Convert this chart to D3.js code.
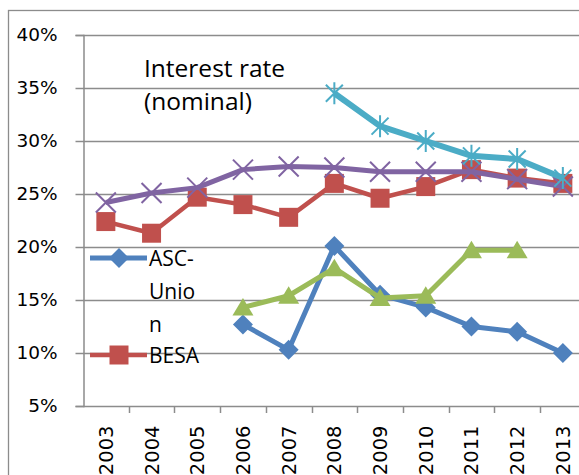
<!DOCTYPE html>
<html>
<head>
<meta charset="utf-8">
<script src="https://cdn.jsdelivr.net/npm/d3@7"></script>
<style>
  body { margin: 0; background: #fff; }
  svg { display: block; }
</style>
</head>
<body>
<div id="chart"></div>
<script>
// years on the category axis
var years = ["2003","2004","2005","2006","2007","2008","2009","2010","2011","2012","2013"];
var yTicks = [0.05,0.10,0.15,0.20,0.25,0.30,0.35,0.40];

// series values (null = no data)
var ascUnion = [null,null,null,0.127,0.103,0.201,0.155,0.143,0.125,0.120,0.100];
var besa     = [0.224,0.213,0.247,0.240,0.228,0.260,0.246,0.257,0.273,0.265,0.260];
var series3  = [null,null,null,0.143,0.154,0.180,0.152,0.154,0.197,0.197,null];
var series4  = [0.242,0.251,0.256,0.273,0.276,0.275,0.271,0.271,0.271,0.264,0.257];
var series5  = [null,null,null,null,null,0.345,0.314,0.300,0.286,0.283,0.265];

var width = 579, height = 475;

var svg = d3.select("#chart").append("svg")
    .attr("width", width)
    .attr("height", height);

// outer chart border (runs off the right/bottom edge)
svg.append("rect")
    .attr("x", 8.5).attr("y", 10.5)
    .attr("width", 700).attr("height", 600)
    .attr("fill", "none")
    .attr("stroke", "#8c8c8c")
    .attr("stroke-width", 1.3);

var x = d3.scaleBand().domain(years).range([83, 83 + 11 * 45.7]);
var y = d3.scaleLinear().domain([0.05, 0.40]).range([406, 35]);

// gridlines
svg.append("g").selectAll("line")
    .data(yTicks)
    .enter().append("line")
    .attr("x1", 83).attr("x2", 640)
    .attr("y1", function(d){ return Math.round(y(d)) + 0.5; })
    .attr("y2", function(d){ return Math.round(y(d)) + 0.5; })
    .attr("stroke", "#8c8c8c")
    .attr("stroke-width", 1.5);

// y axis
var yAxis = svg.append("g")
    .attr("transform", "translate(83.5,0)")
    .call(d3.axisLeft(y).tickValues(yTicks).tickSize(8).tickPadding(18).tickFormat(d3.format(".0%")));
yAxis.select(".domain").attr("stroke", "#8c8c8c").attr("stroke-width", 1.5);
yAxis.selectAll(".tick line").attr("stroke", "#8c8c8c").attr("stroke-width", 1.5);
yAxis.selectAll("text")
    .attr("font-family", "'DejaVu Sans', sans-serif")
    .attr("font-size", 18.5)
    .attr("fill", "#000");

// x axis: labels at band centres, tick marks at band edges
var xAxis = svg.append("g")
    .attr("transform", "translate(0,406.5)")
    .call(d3.axisBottom(x).tickSize(0));
xAxis.select(".domain").remove();
xAxis.selectAll("text")
    .attr("transform", "rotate(-90)")
    .attr("text-anchor", "end")
    .attr("x", -19)
    .attr("y", 0)
    .attr("dy", "0.36em")
    .attr("font-family", "'DejaVu Sans', sans-serif")
    .attr("font-size", 19.5)
    .attr("fill", "#000");
svg.append("g").selectAll("line")
    .data(years)
    .enter().append("line")
    .attr("x1", function(d){ return Math.round(x(d) + x.bandwidth()) + 0.5; })
    .attr("x2", function(d){ return Math.round(x(d) + x.bandwidth()) + 0.5; })
    .attr("y1", 406).attr("y2", 413)
    .attr("stroke", "#8c8c8c")
    .attr("stroke-width", 1.5);

// marker shapes
function diamond(s){ return "M0,"+(-s)+"L"+s+",0L0,"+s+"L"+(-s)+",0Z"; }
function square(s){ return "M"+(-s)+","+(-s)+"H"+s+"V"+s+"H"+(-s)+"Z"; }
function triangle(s){ return "M0,"+(-s*0.95)+"L"+(s*1.05)+","+(s*0.8)+"L"+(-s*1.05)+","+(s*0.8)+"Z"; }
function cross(s){ return "M"+(-s)+","+(-s)+"L"+s+","+s+"M"+(-s)+","+s+"L"+s+","+(-s); }
function star(s){ return cross(s*0.85) + "M0,"+(-s*1.1)+"V"+(s*1.1); }

var allSeries = [
  { name: "ASC-Union", values: ascUnion, color: "#4f81bd", lw: 5,   shape: diamond,  size: 10, fill: true },
  { name: "BESA",      values: besa,     color: "#c0504d", lw: 4.5, shape: square,   size: 9.5, fill: true },
  { name: "Series 3",  values: series3,  color: "#9bbb59", lw: 5,   shape: triangle, size: 10, fill: true },
  { name: "Series 4",  values: series4,  color: "#8064a2", lw: 5,   shape: cross,    size: 10, fill: false },
  { name: "Series 5",  values: series5,  color: "#4bacc6", lw: 6,   shape: star,     size: 10, fill: false }
];

var line = d3.line()
    .defined(function(d){ return d.v != null; })
    .x(function(d){ return x(d.year) + x.bandwidth() / 2; })
    .y(function(d){ return y(d.v); });

allSeries.forEach(function(s){
  var pts = years.map(function(yr, i){ return { year: yr, v: s.values[i] }; });
  var g = svg.append("g");
  g.append("path")
    .attr("d", line(pts))
    .attr("fill", "none")
    .attr("stroke", s.color)
    .attr("stroke-width", s.lw)
    .attr("stroke-linejoin", "round");
  g.selectAll(".mk")
    .data(pts.filter(function(d){ return d.v != null; }))
    .enter().append("path")
    .attr("class", "mk")
    .attr("transform", function(d){ return "translate(" + (x(d.year) + x.bandwidth() / 2) + "," + y(d.v) + ")"; })
    .attr("d", s.shape(s.size))
    .attr("fill", s.fill ? s.color : "none")
    .attr("stroke", s.color)
    .attr("stroke-width", s.fill ? 0 : 2);
});

// chart title inside plot
var title = svg.append("text")
    .attr("font-family", "'Open Sans', sans-serif")
    .attr("font-size", 24.5)
    .attr("fill", "#000");
title.append("tspan").attr("x", 144).attr("y", 77).text("Interest rate");
title.append("tspan").attr("x", 144).attr("y", 110).text("(nominal)");

// legend (only the visible part)
var legend = svg.append("g");
var legendItems = [
  { s: allSeries[0], y: 258, lines: ["ASC-", "Unio", "n"] },
  { s: allSeries[1], y: 355, lines: ["BESA"] }
];
legendItems.forEach(function(item){
  legend.append("line")
    .attr("x1", 90).attr("x2", 147)
    .attr("y1", item.y).attr("y2", item.y)
    .attr("stroke", item.s.color)
    .attr("stroke-width", item.s.lw);
  legend.append("path")
    .attr("transform", "translate(119," + item.y + ")")
    .attr("d", item.s.shape(item.s.size))
    .attr("fill", item.s.color);
  var t = legend.append("text")
    .attr("font-family", "'Open Sans', sans-serif")
    .attr("font-size", 21)
    .attr("fill", "#000");
  item.lines.forEach(function(l, i){
    t.append("tspan").attr("x", 149).attr("y", item.y + 8 + i * 33).text(l);
  });
});
</script>
</body>
</html>
